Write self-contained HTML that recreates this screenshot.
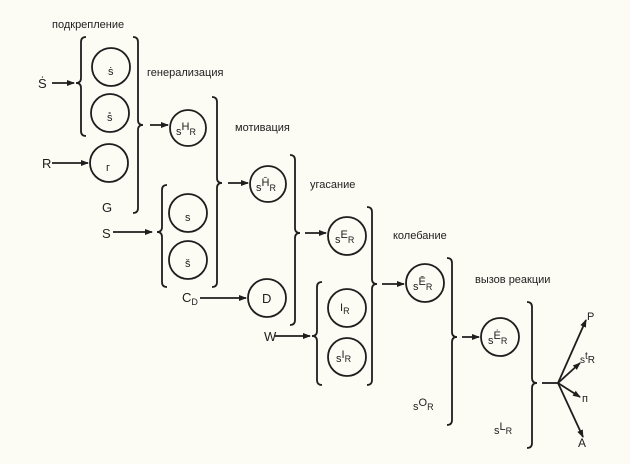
<!DOCTYPE html>
<html><head><meta charset="utf-8"><style>
html,body{margin:0;padding:0;background:#fcfbf4;}
svg{display:block}
text{font-family:"Liberation Sans","DejaVu Sans",sans-serif;fill:#1e1e1e;}
</style></head><body>
<svg width="630" height="464" viewBox="0 0 630 464" xmlns="http://www.w3.org/2000/svg">
<defs><marker id="a" markerWidth="8" markerHeight="8" refX="7" refY="4" orient="auto" markerUnits="userSpaceOnUse"><path d="M0,1 L8,4 L0,7 z" fill="#1e1e1e"/></marker></defs>
<g stroke="#1e1e1e" stroke-width="1.8" fill="none">
<circle cx="111" cy="67" r="19"/><circle cx="110" cy="113" r="19"/><circle cx="109" cy="163" r="19"/>
<circle cx="188" cy="128" r="18"/><circle cx="268" cy="184" r="18"/>
<circle cx="188" cy="213" r="19"/><circle cx="188" cy="260" r="19"/><circle cx="267" cy="298" r="19"/>
<circle cx="347" cy="236" r="19"/><circle cx="347" cy="308" r="19"/><circle cx="347" cy="357" r="19"/>
<circle cx="425" cy="283" r="19"/><circle cx="500" cy="337" r="19"/>
<path d="M86,37 Q81,37 81,42 L81,78 Q81,83 76,83 Q81,83 81,88 L81,131 Q81,136 86,136"/>
<path d="M167,185 Q162,185 162,190 L162,227 Q162,232 157,232 Q162,232 162,237 L162,282 Q162,287 167,287"/>
<path d="M322,282 Q317,282 317,287 L317,331 Q317,336 312,336 Q317,336 317,341 L317,380 Q317,385 322,385"/>
<path d="M133,37 Q138,37 138,42 L138,120 Q138,125 143,125 Q138,125 138,130 L138,208 Q138,213 133,213"/>
<path d="M212,97 Q217,97 217,102 L217,178 Q217,183 222,183 Q217,183 217,188 L217,282 Q217,287 212,287"/>
<path d="M290,155 Q295,155 295,160 L295,228 Q295,233 300,233 Q295,233 295,238 L295,320 Q295,325 290,325"/>
<path d="M367,207 Q372,207 372,212 L372,279 Q372,284 377,284 Q372,284 372,289 L372,380 Q372,385 367,385"/>
<path d="M447,258 Q452,258 452,263 L452,332 Q452,337 457,337 Q452,337 452,342 L452,420 Q452,425 447,425"/>
<path d="M527,302 Q532,302 532,307 L532,378 Q532,383 537,383 Q532,383 532,388 L532,443 Q532,448 527,448"/>
<g marker-end="url(#a)">
<line x1="52" y1="83" x2="74" y2="83"/><line x1="52" y1="163" x2="88" y2="163"/>
<line x1="150" y1="125" x2="168" y2="125"/><line x1="228" y1="183" x2="248" y2="183"/>
<line x1="113" y1="232" x2="152" y2="232"/><line x1="200" y1="298" x2="246" y2="298"/>
<line x1="305" y1="233" x2="326" y2="233"/><line x1="275" y1="336" x2="310" y2="336"/>
<line x1="382" y1="284" x2="404" y2="284"/><line x1="462" y1="337" x2="479" y2="337"/>
<line x1="558" y1="383" x2="586" y2="320"/><line x1="558" y1="383" x2="580" y2="363"/>
<line x1="558" y1="383" x2="580" y2="397"/><line x1="558" y1="383" x2="583" y2="437"/>
</g>
<line x1="542" y1="383" x2="558" y2="383"/>
</g>
<g font-size="11">
<text x="52" y="28">подкрепление</text>
<text x="147" y="76">генерализация</text>
<text x="235" y="131">мотивация</text>
<text x="310" y="188">угасание</text>
<text x="393" y="239">колебание</text>
<text x="475" y="283">вызов реакции</text>
</g>
<g font-size="13">
<text x="38" y="88">Ṡ</text><text x="42" y="168">R</text><text x="102" y="212">G</text>
<text x="102" y="238">S</text><text x="264" y="341">W</text>
<text x="182" y="302">C<tspan font-size="9" dy="3">D</tspan></text>
<text x="262" y="303">D</text>
<text x="587" y="320" font-size="11">P</text><text x="578" y="447" font-size="12">A</text>
<text x="582" y="402" font-size="11">п</text>
<text x="580" y="363" font-size="10">s<tspan dy="-4">t</tspan><tspan dy="4">R</tspan></text>
</g>
<g font-size="11">
<text x="108" y="75">ṡ</text><text x="107" y="121">s̊</text><text x="106" y="171">г</text>
<text x="185" y="221">s</text><text x="185" y="267">š</text>
<text x="176" y="135">s<tspan dy="-5">H</tspan><tspan dy="5" font-size="9">R</tspan></text>
<text x="256" y="191">s<tspan dy="-5">H̄</tspan><tspan dy="5" font-size="9">R</tspan></text>
<text x="335" y="243">s<tspan dy="-5">E</tspan><tspan dy="5" font-size="9">R</tspan></text>
<text x="340" y="311">I<tspan dy="3" font-size="9">R</tspan></text>
<text x="336" y="362">s<tspan dy="-4">I</tspan><tspan dy="4" font-size="9">R</tspan></text>
<text x="413" y="290">s<tspan dy="-5">Ē</tspan><tspan dy="5" font-size="9">R</tspan></text>
<text x="488" y="344">s<tspan dy="-5">Ė</tspan><tspan dy="5" font-size="9">R</tspan></text>
<text x="413" y="410">s<tspan dy="-4">O</tspan><tspan dy="4" font-size="9">R</tspan></text>
<text x="494" y="434">s<tspan dy="-4">L</tspan><tspan dy="4" font-size="9">R</tspan></text>
</g>
</svg>
</body></html>
